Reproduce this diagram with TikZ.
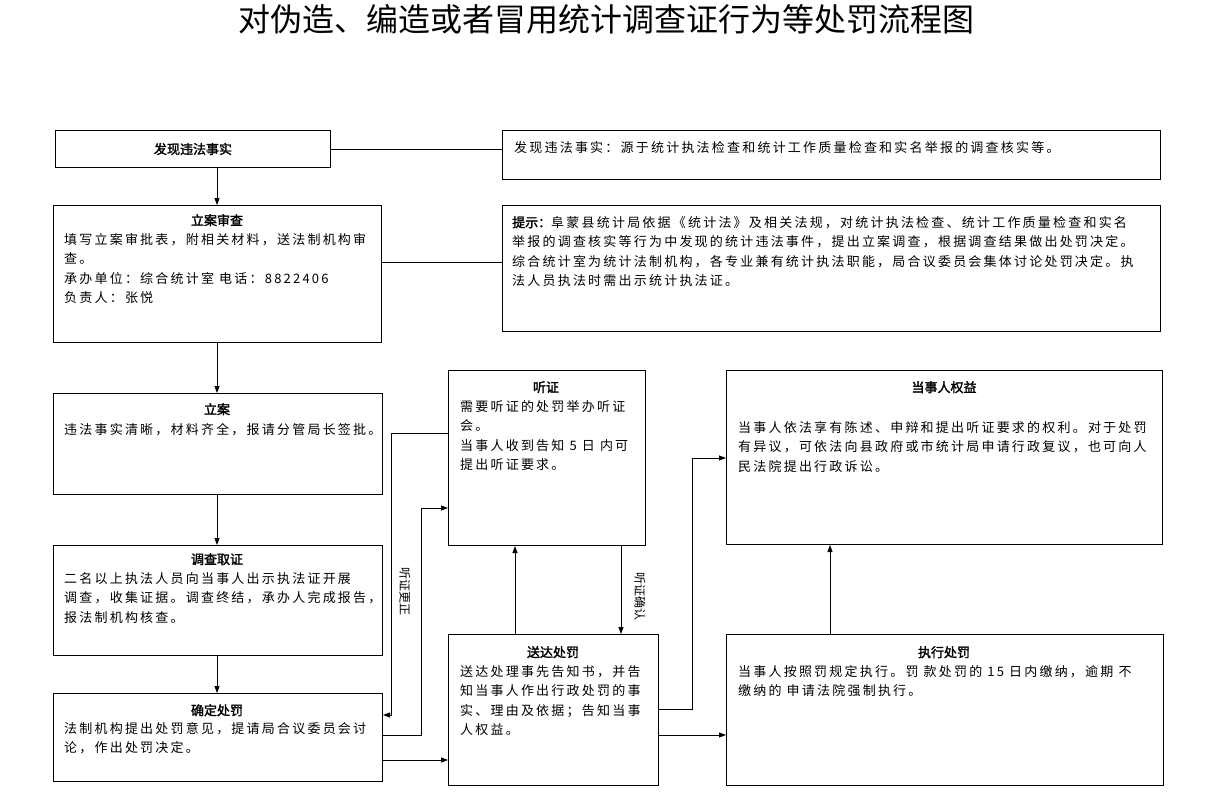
\documentclass[tikz,border=0pt]{standalone}
\usepackage{fontspec}
\setmainfont{Noto Sans CJK SC}
\newfontfamily\bodyf[LetterSpace=17]{Noto Sans CJK SC}
\newfontfamily\titlef{Noto Sans CJK SC}
\newfontfamily\headf[FakeBold=2]{Noto Sans CJK SC}
\usetikzlibrary{arrows.meta}
\begin{document}
\begin{tikzpicture}[x=1pt,y=-1pt,
  box/.style={draw,line width=1pt,anchor=north west,inner sep=0pt},
  txt/.style={anchor=north west,align=left,inner sep=0pt,font=\bodyf\fontsize{13}{19.5}\selectfont},
  head/.style={anchor=north,inner sep=0pt,font=\headf\fontsize{13}{16}\selectfont},
  lnk/.style={line width=0.8pt},
  arr/.style={line width=0.8pt,-{Triangle[length=7pt,width=5pt]}},
  vlab/.style={rotate=-90,inner sep=0pt,font=\fontsize{12}{12}\selectfont}]
\useasboundingbox (0,0) rectangle (1212,806);
\node[inner sep=0pt,font=\titlef\fontsize{32}{34}\selectfont] (title) at (606,19) {对伪造、编造或者冒用统计调查证行为等处罚流程图};
% boxes
\node[box,minimum width=275,minimum height=37] (fx) at (55,130) {};
\node[head,anchor=center] (fxh) at (fx.center) {发现违法事实};
\node[box,minimum width=658,minimum height=49] (n1) at (502,130) {};
\node[txt] (n1t) at (514,141) {发现违法事实：源于统计执法检查和统计工作质量检查和实名举报的调查核实等。};
\node[box,minimum width=328,minimum height=137] (la) at (53,205) {};
\node[head] (lah) at (217,214) {立案审查};
\node[txt] (lat) at (64,233) {填写立案审批表，附相关材料，送法制机构审\\查。\\承办单位：综合统计室\ 电话：8822406\\负责人：张悦};
\node[box,minimum width=658,minimum height=126] (ts) at (502,205) {};
\node[txt] (tst) at (512,216) {{\headf 提示：}阜蒙县统计局依据《统计法》及相关法规，对统计执法检查、统计工作质量检查和实名\\举报的调查核实等行为中发现的统计违法事件，提出立案调查，根据调查结果做出处罚决定。\\综合统计室为统计法制机构，各专业兼有统计执法职能，局合议委员会集体讨论处罚决定。执\\法人员执法时需出示统计执法证。};
\node[box,minimum width=329,minimum height=101] (lq) at (53,393) {};
\node[head] (lqh) at (217,403) {立案};
\node[txt] (lqt) at (64,423) {违法事实清晰，材料齐全，报请分管局长签批。};
\node[box,minimum width=329,minimum height=110] (dc) at (53,545) {};
\node[head] (dch) at (217,553) {调查取证};
\node[txt] (dct) at (64,572) {二名以上执法人员向当事人出示执法证开展\\调查，收集证据。调查终结，承办人完成报告，\\报法制机构核查。};
\node[box,minimum width=329,minimum height=88] (qd) at (53,693) {};
\node[head] (qdh) at (217,704) {确定处罚};
\node[txt] (qdt) at (64,722) {法制机构提出处罚意见，提请局合议委员会讨\\论，作出处罚决定。};
\node[box,minimum width=197,minimum height=175] (tz) at (448,370) {};
\node[head] (tzh) at (546,381) {听证};
\node[txt] (tzt) at (460,400) {需要听证的处罚举办听证\\会。\\当事人收到告知\ 5\ 日\ 内可\\提出听证要求。};
\node[box,minimum width=210,minimum height=151] (sd) at (448,634) {};
\node[head] (sdh) at (553,646) {送达处罚};
\node[txt] (sdt) at (460,665) {送达处理事先告知书，并告\\知当事人作出行政处罚的事\\实、理由及依据；告知当事\\人权益。};
\node[box,minimum width=436,minimum height=174] (qy) at (726,370) {};
\node[head] (qyh) at (944,381) {当事人权益};
\node[txt] (qyt) at (738,421) {当事人依法享有陈述、申辩和提出听证要求的权利。对于处罚\\有异议，可依法向县政府或市统计局申请行政复议，也可向人\\民法院提出行政诉讼。};
\node[box,minimum width=437,minimum height=151] (zx) at (726,634) {};
\node[head] (zxh) at (944,646) {执行处罚};
\node[txt] (zxt) at (738,665) {当事人按照罚规定执行。罚\ 款处罚的\ 15\ 日内缴纳，逾期\ 不\\缴纳的\ 申请法院强制执行。};
% connectors
\draw[lnk] (fx.east) -- (fx.east -| n1.west);
\draw[lnk] (la.east |- 0,262) -- (ts.west |- 0,262);
\draw[arr] (fx.south -| 217,0) -- (la.north -| 217,0);
\draw[arr] (la.south -| 217,0) -- (lq.north -| 217,0);
\draw[arr] (lq.south -| 217,0) -- (dc.north -| 217,0);
\draw[arr] (dc.south -| 217,0) -- (qd.north -| 217,0);
\coordinate (c1) at (391,433);
\coordinate (c2) at (391,715);
\draw[arr] (tz.west |- c1) -- (c1) -- (c2) -- (qd.east |- c2);
\coordinate (c3) at (421,735);
\coordinate (c4) at (421,508);
\draw[arr] (qd.east |- c3) -- (c3) -- (c4) -- (tz.west |- c4);
\draw[arr] (qd.east |- 0,760) -- (sd.west |- 0,760);
\draw[arr] (sd.north -| 515,0) -- (tz.south -| 515,0);
\draw[arr] (tz.south -| 621,0) -- (sd.north -| 621,0);
\coordinate (c5) at (692,709);
\coordinate (c6) at (692,458);
\draw[arr] (sd.east |- c5) -- (c5) -- (c6) -- (qy.west |- c6);
\draw[arr] (sd.east |- 0,735) -- (zx.west |- 0,735);
\draw[arr] (zx.north -| 830,0) -- (qy.south -| 830,0);
\node[vlab] (l1) at (405,591) {听证更正};
\node[vlab] (l2) at (640,596) {听证确认};
\end{tikzpicture}
\end{document}
